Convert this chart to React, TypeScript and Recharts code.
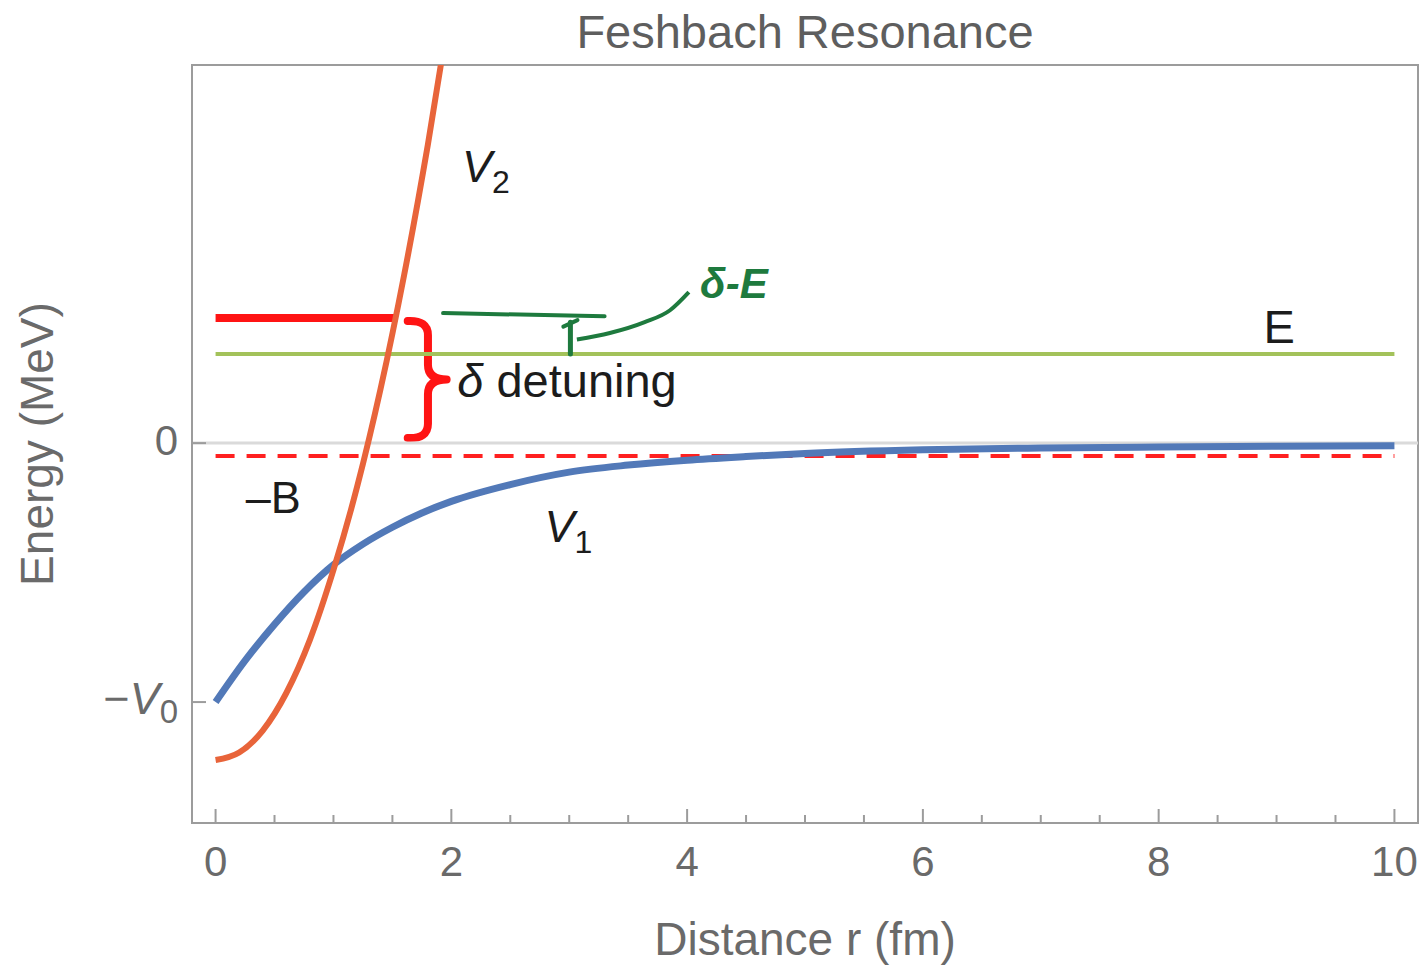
import React from 'react';
import { LineChart, Line, XAxis, YAxis, ReferenceLine, ReferenceArea, ReferenceDot } from 'recharts';

const FONT = '"Liberation Sans", Arial, sans-serif';

const xTicks = [0, 0.5, 1, 1.5, 2, 2.5, 3, 3.5, 4, 4.5, 5, 5.5, 6, 6.5, 7, 7.5, 8, 8.5, 9, 9.5, 10];
const xLabels = [0, 2, 4, 6, 8, 10];
const yTicks = [-1, 0];

// open channel V1
const v1 = [
  { r: 0, e: -1.0 }, { r: 0.25, e: -0.84 }, { r: 0.5, e: -0.7 }, { r: 0.75, e: -0.575 },
  { r: 1, e: -0.47 }, { r: 1.25, e: -0.39 }, { r: 1.5, e: -0.325 }, { r: 1.75, e: -0.27 },
  { r: 2, e: -0.225 }, { r: 2.5, e: -0.16 }, { r: 3, e: -0.112 }, { r: 3.5, e: -0.085 },
  { r: 4, e: -0.066 }, { r: 4.5, e: -0.052 }, { r: 5, e: -0.04 }, { r: 6, e: -0.026 },
  { r: 7, e: -0.019 }, { r: 8, e: -0.015 }, { r: 9, e: -0.012 }, { r: 10, e: -0.01 },
];

// closed channel V2
const v2 = [
  { r: 0, e: -1.224 }, { r: 0.2, e: -1.195 }, { r: 0.4, e: -1.11 }, { r: 0.6, e: -0.965 },
  { r: 0.8, e: -0.76 }, { r: 1, e: -0.49 }, { r: 1.2, e: -0.17 }, { r: 1.4, e: 0.21 },
  { r: 1.6, e: 0.65 }, { r: 1.8, e: 1.15 }, { r: 2, e: 1.71 },
];

const boundLevel = [{ r: 0, e: 0.483 }, { r: 1.53, e: 0.483 }];
const energyLevel = [{ r: 0, e: 0.344 }, { r: 10, e: 0.344 }];
const bindingLevel = [{ r: 0, e: -0.05 }, { r: 10, e: -0.05 }];

// handwritten note
const noteLine = [{ x: 1.93, y: 0.502 }, { x: 3.3, y: 0.49 }];
const noteArrow = [{ x: 3.01, y: 0.344 }, { x: 3.01, y: 0.467 }];
const noteHead = [{ x: 2.95, y: 0.45 }, { x: 3.07, y: 0.475 }];
const noteCurve = [
  { r: 3.065, e: 0.4 }, { r: 3.345, e: 0.425 }, { r: 3.64, e: 0.467 }, { r: 3.855, e: 0.513 }, { r: 4.015, e: 0.583 },
];

const GRAY = '#9c9c9c';
const LABEL = '#6a6a6a';
const INK = '#1c1c1c';
const PEN = '#1e7a3e';

const XTick = (props: any) => {
  const { x, y, payload } = props;
  const major = xLabels.includes(payload.value);
  return (
    <g>
      <line x1={x} x2={x} y1={y} y2={y - (major ? 14 : 8)} stroke={GRAY} strokeWidth={2} />
      {major && (
        <text x={x} y={y + 53} textAnchor="middle" fontSize={42} fill={LABEL} fontFamily={FONT}>
          {payload.value}
        </text>
      )}
    </g>
  );
};

const YTick = (props: any) => {
  const { x, y, payload } = props;
  return (
    <g>
      <line x1={x} x2={x + 14} y1={y} y2={y} stroke={GRAY} strokeWidth={2} />
      {payload.value === 0 ? (
        <text x={x - 14} y={y + 12} textAnchor="end" fontSize={42} fill={LABEL} fontFamily={FONT}>0</text>
      ) : (
        <text x={x - 14} y={y + 12} textAnchor="end" fontSize={45} fill={LABEL} fontFamily={FONT}>
          <tspan>−</tspan>
          <tspan fontStyle="italic">V</tspan>
          <tspan fontSize={33} dy={9}>0</tspan>
        </text>
      )}
    </g>
  );
};

const at = (draw: (x: number, y: number) => React.ReactNode) => (props: any) => {
  const vb = props.viewBox || {};
  return <g>{draw(vb.x, vb.y)}</g>;
};

const Brace = (props: any) => {
  const { x, y, width: w, height: h } = props;
  const s = x + w * 0.52;
  const m = y + h / 2;
  const d = `M ${x} ${y + 3} Q ${s} ${y + 2} ${s} ${y + h * 0.14} L ${s} ${m - h * 0.12} Q ${s} ${m} ${x + w} ${m} Q ${s} ${m} ${s} ${m + h * 0.12} L ${s} ${y + h - h * 0.14} Q ${s} ${y + h - 2} ${x} ${y + h - 3}`;
  return <path d={d} fill="none" stroke="#ff1414" strokeWidth={8} strokeLinecap="round" strokeLinejoin="round" />;
};

export default function App() {
  return (
    <div style={{ position: 'absolute', left: 0, top: 0, background: '#fff' }}>
      <LineChart width={1422} height={968} margin={{ top: 65, right: 4, bottom: 0, left: 0 }}>
        <XAxis
          dataKey="r"
          type="number"
          domain={[-0.2, 10.2]}
          ticks={xTicks}
          interval={0}
          allowDataOverflow
          height={145}
          tickSize={0}
          tickMargin={0}
          tick={<XTick />}
          axisLine={{ stroke: GRAY, strokeWidth: 2 }}
        />
        <YAxis
          dataKey="e"
          type="number"
          domain={[-1.467, 1.46]}
          ticks={yTicks}
          interval={0}
          allowDataOverflow
          width={192}
          tickSize={0}
          tickMargin={0}
          tick={<YTick />}
          axisLine={{ stroke: GRAY, strokeWidth: 2 }}
        />
        <ReferenceArea
          x1={-0.2}
          x2={10.2}
          y1={-1.467}
          y2={1.46}
          fill="none"
          stroke={GRAY}
          strokeWidth={2}
          fillOpacity={0}
          label={(props: any) => {
            const vb = props.viewBox || {};
            return (
              <g>
                <text x={vb.x + vb.width / 2} y={vb.y - 17} textAnchor="middle" fontSize={47} fill="#5e5e5e" fontFamily={FONT}>
                  Feshbach Resonance
                </text>
                <text x={vb.x + vb.width / 2} y={vb.y + vb.height + 132} textAnchor="middle" fontSize={46} fill={LABEL} fontFamily={FONT}>
                  Distance r (fm)
                </text>
                <text
                  x={53}
                  y={vb.y + vb.height / 2}
                  textAnchor="middle"
                  fontSize={46}
                  fill={LABEL}
                  fontFamily={FONT}
                  transform={`rotate(-90 53 ${vb.y + vb.height / 2})`}
                >
                  Energy (MeV)
                </text>
              </g>
            );
          }}
        />
        <ReferenceLine y={0} stroke="#dadada" strokeWidth={3} />
        <ReferenceArea x1={1.63} x2={1.96} y1={0.008} y2={0.483} shape={<Brace />} />

        <Line data={energyLevel} dataKey="e" type="linear" stroke="#a3c25a" strokeWidth={4} dot={false} isAnimationActive={false} />
        <Line data={bindingLevel} dataKey="e" type="linear" stroke="#ff2020" strokeWidth={4} strokeDasharray="19 12" dot={false} isAnimationActive={false} />
        <Line data={boundLevel} dataKey="e" type="linear" stroke="#ff1414" strokeWidth={8} dot={false} isAnimationActive={false} />
        <Line data={v1} dataKey="e" type="monotone" stroke="#5279b8" strokeWidth={7} dot={false} isAnimationActive={false} />
        <Line data={v2} dataKey="e" type="monotone" stroke="#e8643a" strokeWidth={6} dot={false} isAnimationActive={false} />

        <ReferenceLine segment={noteLine} stroke={PEN} strokeWidth={4} strokeLinecap="round" />
        <ReferenceLine segment={noteArrow} stroke={PEN} strokeWidth={5} strokeLinecap="round" />
        <ReferenceLine segment={noteHead} stroke={PEN} strokeWidth={4} strokeLinecap="round" />
        <Line data={noteCurve} dataKey="e" type="monotone" stroke={PEN} strokeWidth={4} dot={false} isAnimationActive={false} />

        <ReferenceDot x={2.09} y={1.008} r={0} fill="none" stroke="none" label={at((x, y) => (
          <text x={x} y={y} fontSize={45} fill={INK} fontFamily={FONT}>
            <tspan fontStyle="italic">V</tspan>
            <tspan fontSize={32} dy={11}>2</tspan>
          </text>
        ))} />
        <ReferenceDot x={8.89} y={0.386} r={0} fill="none" stroke="none" label={at((x, y) => (
          <text x={x} y={y} fontSize={47} fill={INK} fontFamily={FONT}>E</text>
        ))} />
        <ReferenceDot x={2.05} y={0.178} r={0} fill="none" stroke="none" label={at((x, y) => (
          <text x={x} y={y} fontSize={47} fill={INK} fontFamily={FONT}>
            <tspan fontStyle="italic">δ</tspan> detuning
          </text>
        ))} />
        <ReferenceDot x={0.255} y={-0.27} r={0} fill="none" stroke="none" label={at((x, y) => (
          <text x={x} y={y} fontSize={45} fill={INK} fontFamily={FONT}>–B</text>
        ))} />
        <ReferenceDot x={2.79} y={-0.382} r={0} fill="none" stroke="none" label={at((x, y) => (
          <text x={x} y={y} fontSize={45} fill={INK} fontFamily={FONT}>
            <tspan fontStyle="italic">V</tspan>
            <tspan fontSize={32} dy={11}>1</tspan>
          </text>
        ))} />
        <ReferenceDot x={4.11} y={0.56} r={0} fill="none" stroke="none" label={at((x, y) => (
          <text x={x} y={y} fontSize={42} fontWeight="bold" fontStyle="italic" fill={PEN} fontFamily={FONT}>δ-E</text>
        ))} />
      </LineChart>
    </div>
  );
}
